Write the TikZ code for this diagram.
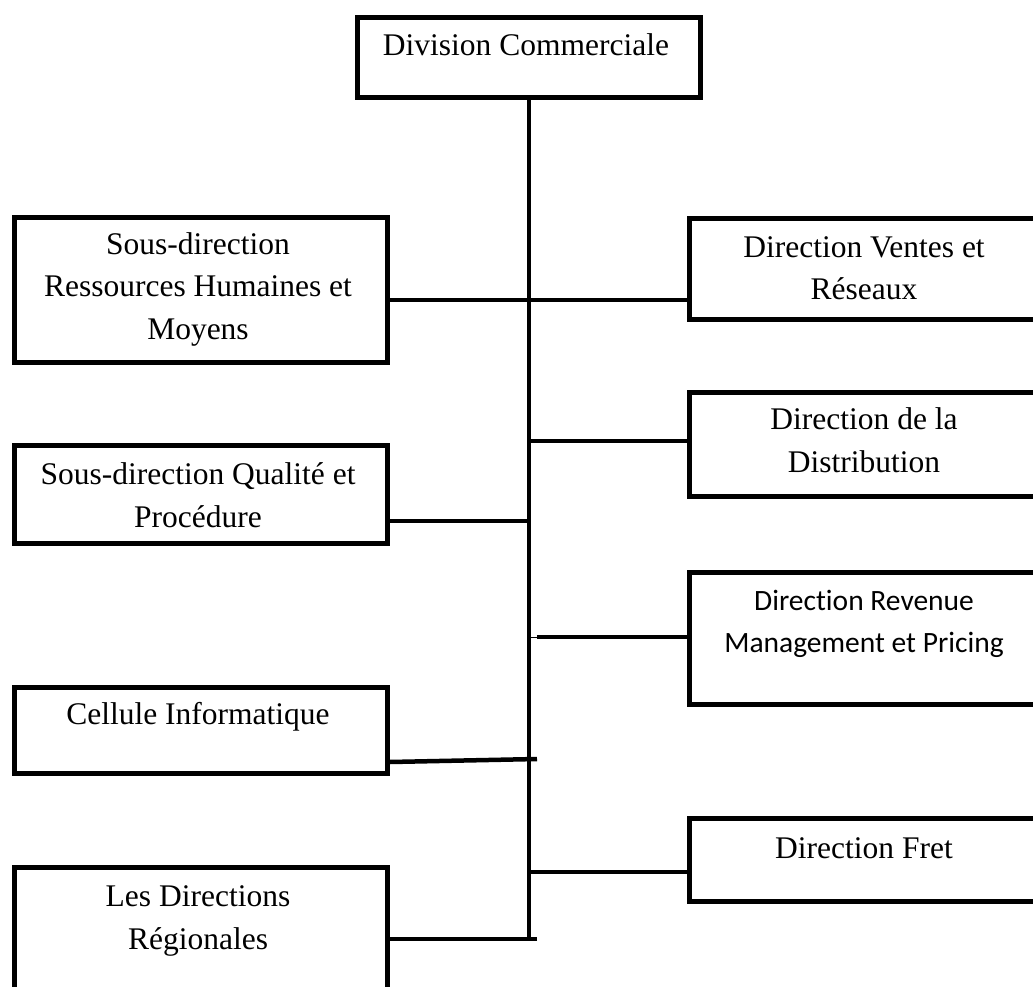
\documentclass[tikz,border=0pt]{standalone}
\usepackage{fontspec}
\setmainfont{Liberation Serif}
\newfontfamily\calfont[Ligatures=NoCommon]{Carlito}

\tikzset{
	box/.style={draw, line width=4.5pt, anchor=north west, inner sep=0pt},
	lbl/.style={align=center, font=\fontsize{31.5}{42.5}\selectfont},
	link/.style={line width=4.5pt},
}

\begin{document}
\begin{tikzpicture}[x=1pt, y=-1pt]
		\useasboundingbox (0,0) rectangle (1033,986);
		
		% boxes
		\node[box, minimum width=343pt, minimum height=80pt] (div) at (355,15) {};
		\node[box, minimum width=373pt, minimum height=145pt] (rh) at (12,215) {};
		\node[box, minimum width=373pt, minimum height=98pt] (qual) at (12,443) {};
		\node[box, minimum width=373pt, minimum height=86pt] (cell) at (12,685) {};
		\node[box, minimum width=373pt, minimum height=175pt] (reg) at (12,865) {};
		\node[box, minimum width=354pt, minimum height=101pt] (vent) at (687,216) {};
		\node[box, minimum width=354pt, minimum height=104pt] (dist) at (687,390) {};
		\node[box, minimum width=354pt, minimum height=132pt] (rev) at (687,570) {};
		\node[box, minimum width=354pt, minimum height=83pt] (fret) at (687,816) {};
		
		% texts
		\node[lbl] (divT) at (526,45) {Division Commerciale};
		\node[lbl] (rhT) at (198,289) {Sous-direction\\Ressources Humaines et\\Moyens};
		\node[lbl] (qualT) at (198,495) {Sous-direction Qualité et\\Procédure};
		\node[lbl] (cellT) at (198,717) {Cellule Informatique};
		\node[lbl] (regT) at (198,921) {Les Directions\\Régionales};
		\node[lbl] (ventT) at (864,268) {Direction Ventes et\\Réseaux};
		\node[lbl] (distT) at (864,440) {Direction de la\\Distribution};
		\node[lbl, font=\calfont\fontsize{29.5}{42.5}\selectfont] (revT) at (864,624) {Direc\kern0pt tion Revenue\\Management et Pricing};
		\node[lbl] (fretT) at (864,848) {Direction Fret};
		
		% trunk and branches
		\coordinate (tEnd) at (529,941);
		\coordinate (j1) at (529,300);
		\coordinate (j2) at (529,441);
		\coordinate (j3) at (529,521);
		\coordinate (j4) at (529,637);
		\coordinate (r0) at (537,637);
		\coordinate (c0) at (537,759);
		\coordinate (j5) at (529,872);
		\coordinate (g0) at (537,939);
		
		\draw[link] (tEnd |- div.south) -- (tEnd);
		\draw[link] (rh.east |- j1) -- (vent.west |- j1);
		\draw[link] (j2) -- (dist.west |- j2);
		\draw[link] (j3) -- (qual.east |- j3);
		\draw[line width=1pt] (j4) -- (r0);
		\draw[link] (r0) -- (rev.west |- r0);
		\draw[link] (c0) -- ([yshift=-3pt]cell.east |- c0);
		\draw[link] (j5) -- (fret.west |- j5);
		\draw[link] (g0) -- (reg.east |- g0);
	\end{tikzpicture}
\end{document}
